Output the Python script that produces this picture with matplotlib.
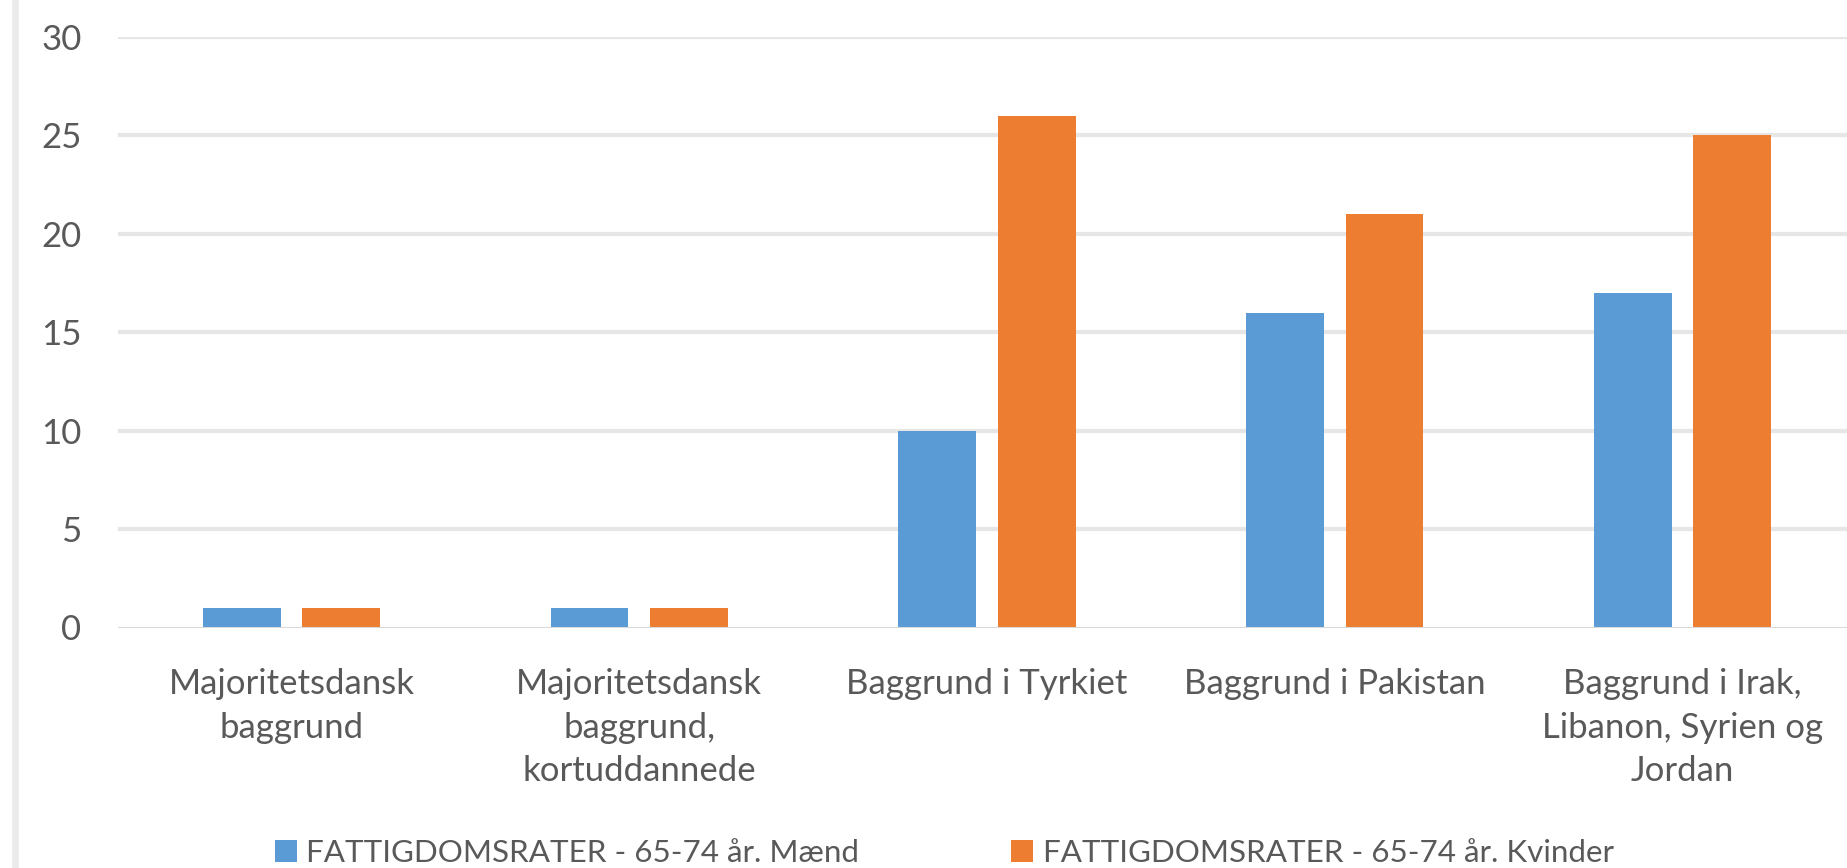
import matplotlib
matplotlib.use("Agg")
import matplotlib.pyplot as plt
from matplotlib.lines import Line2D
import numpy as np

categories = ["Majoritetsdansk\nbaggrund",
              "Majoritetsdansk\nbaggrund,\nkortuddannede",
              "Baggrund i Tyrkiet",
              "Baggrund i Pakistan",
              "Baggrund i Irak,\nLibanon, Syrien og\nJordan"]
maend = [1, 1, 10, 16, 17]
kvinder = [1, 1, 26, 21, 25]
series_names = ["FATTIGDOMSRATER - 65-74 år. Mænd",
                "FATTIGDOMSRATER - 65-74 år. Kvinder"]
yticks = [0, 5, 10, 15, 20, 25, 30]

BLUE = "#5B9BD5"
ORANGE = "#ED7D31"
TXT = "#595959"
FS = 25
LFS = 22.6

plt.rcParams['font.family'] = ['Lato', 'DejaVu Sans']

W, H = 1847, 868
fig = plt.figure(figsize=(W / 100, H / 100), dpi=100)
ax = fig.add_axes([117.6 / W, 240.5 / H, 1738.75 / W, 590.5 / H])

x = np.arange(len(categories))
bw = 0.224
off = 0.143
ax.bar(x - off, maend, bw, color=BLUE, label=series_names[0], zorder=3)
ax.bar(x + off, kvinder, bw, color=ORANGE, label=series_names[1], zorder=3)

ax.set_xlim(-0.5, len(categories) - 0.5)
ax.set_ylim(0, 30)
ax.set_yticks(yticks)
ax.set_yticklabels([str(v) for v in yticks])
ax.tick_params(axis='y', length=0, pad=26, labelsize=FS, labelcolor=TXT)
ax.set_xticks([])
for s in ax.spines.values():
    s.set_visible(False)
for v in yticks[1:]:
    ax.axhline(v, color="#E6E6E6", lw=3, zorder=1)
ax.axhline(0, color="#D9D9D9", lw=2.2, zorder=4)

for i, c in enumerate(categories):
    ax.text(i, -2.05, c, ha='center', va='top', fontsize=FS, color=TXT,
            linespacing=1.45)

leg = ax.legend(loc='center left', ncol=2, frameon=False,
                fontsize=LFS, handlelength=0.7, handleheight=0.7,
                handletextpad=0.3, columnspacing=4.85, borderaxespad=0,
                labelcolor=TXT)
leg.set_bbox_to_anchor((262 / W, (868 - 853) / H), transform=fig.transFigure)

fig.add_artist(Line2D([14.5 / W, 14.5 / W], [0, 1], color="#EBEBEB", lw=4.8,
                      transform=fig.transFigure))

fig.savefig("out.png", dpi=100, facecolor="white")
